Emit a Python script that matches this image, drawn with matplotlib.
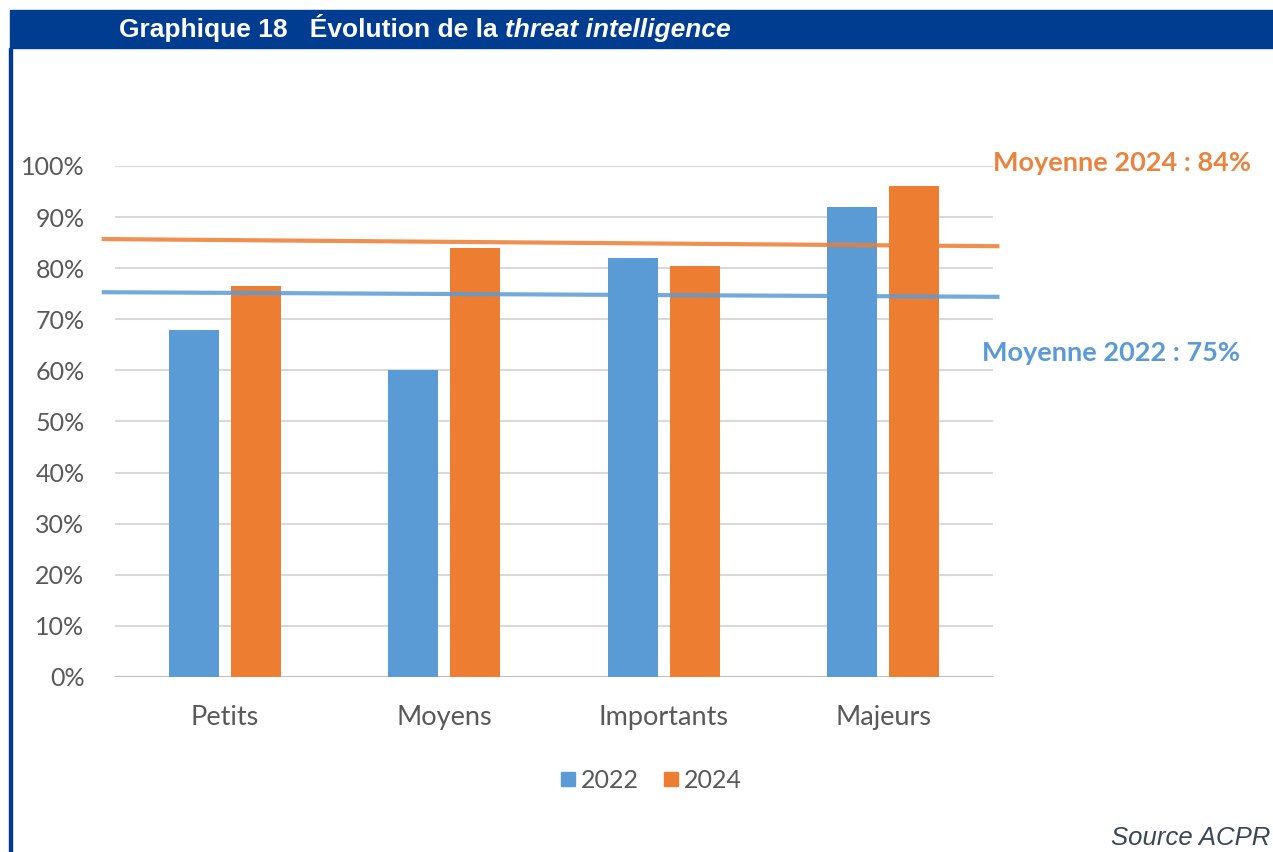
import matplotlib.pyplot as plt
from matplotlib.patches import Rectangle
from matplotlib.lines import Line2D

# ---------------- DATA ----------------
categories = ["Petits", "Moyens", "Importants", "Majeurs"]
values_2022 = [0.68, 0.60, 0.82, 0.92]
values_2024 = [0.765, 0.84, 0.805, 0.96]
# the average lines are slightly tilted in the source (start, end)
avg_2024_line = [0.857, 0.843]
avg_2022_line = [0.753, 0.744]
avg_labels = ["Moyenne 2024 : 84%", "Moyenne 2022 : 75%"]
yticks = [0.0, 0.1, 0.2, 0.3, 0.4, 0.5, 0.6, 0.7, 0.8, 0.9, 1.0]
series_names = ["2022", "2024"]

BLUE = "#5B9BD5"
ORANGE = "#ED7D31"
HEADER = "#003C8F"
GRAY_TXT = "#595959"

plt.rcParams["font.family"] = ["Lato", "DejaVu Sans"]

W, H = 1273, 852
fig = plt.figure(figsize=(W / 100, H / 100), dpi=100)

# ---------- header bar + left border ----------
fig.patches.append(Rectangle((10 / W, 1 - 48 / H), 1 - 10 / W, 38 / H,
                             transform=fig.transFigure, color=HEADER, zorder=0))
fig.patches.append(Rectangle((9 / W, 0), 3 / W, 1 - 48 / H,
                             transform=fig.transFigure, color=HEADER, zorder=0))
t1 = fig.text(119 / W, 1 - 37 / H, "Graphique 18   Évolution de la ", color="white",
              fontsize=19, fontweight="bold", family="Liberation Sans", va="baseline")
fig.canvas.draw()
bb = t1.get_window_extent()
fig.text(bb.x1 / W, 1 - 37 / H, "threat intelligence", color="white",
         fontsize=19, fontweight="bold", style="italic", family="Liberation Sans",
         va="baseline")

# ---------- axes ----------
ax = fig.add_axes([115 / W, 1 - 677 / H, (993 - 115) / W, (677 - 166) / H])
x = list(range(len(categories)))
bw = 0.228
off = 0.142
ax.bar([i - off for i in x], values_2022, width=bw, color=BLUE, zorder=2)
ax.bar([i + off for i in x], values_2024, width=bw, color=ORANGE, zorder=2)

ax.set_xlim(-0.5, 3.5)
ax.set_ylim(0, 1.0)
ax.set_yticks(yticks)
ax.set_yticklabels([f"{int(round(v * 100))}%" for v in yticks])
ax.set_xticks(x)
ax.set_xticklabels(categories)
ax.tick_params(axis="y", length=0, pad=22, labelsize=18, labelcolor=GRAY_TXT)
ax.tick_params(axis="x", length=0, pad=20, labelsize=19.5, labelcolor=GRAY_TXT)
for s in ax.spines.values():
    s.set_visible(False)
for v in yticks:
    ax.axhline(v, color="#BFBFBF" if v == 0 else "#D9D9D9", lw=1.5, zorder=1)

# average lines
x_line = [-0.551, 3.52]
ax.plot(x_line, avg_2024_line, color=ORANGE, lw=3, alpha=0.85, zorder=3, clip_on=False)
ax.plot(x_line, avg_2022_line, color=BLUE, lw=3, alpha=0.85, zorder=3, clip_on=False)

fig.text(1251 / W, 1 - 163 / H, avg_labels[0], color="#E9843F", fontsize=19.5,
         fontweight="bold", ha="right", va="center")
fig.text(1240 / W, 1 - 353 / H, avg_labels[1], color=BLUE, fontsize=19.5,
         fontweight="bold", ha="right", va="center")

# legend
handles = [Line2D([], [], marker="s", ls="", color=BLUE, markersize=10),
           Line2D([], [], marker="s", ls="", color=ORANGE, markersize=10)]
fig.legend(handles, series_names, loc="center", bbox_to_anchor=(650 / W, 1 - 780 / H),
           ncol=2, frameon=False, fontsize=18, labelcolor=GRAY_TXT,
           handletextpad=0.1, columnspacing=0.9, handlelength=0.8)

fig.text(1270 / W, 1 - 838 / H, "Source ACPR", color="#3B4656", fontsize=18.5,
         style="italic", family="Liberation Sans", ha="right", va="center")

fig.savefig("out.png", dpi=100)
